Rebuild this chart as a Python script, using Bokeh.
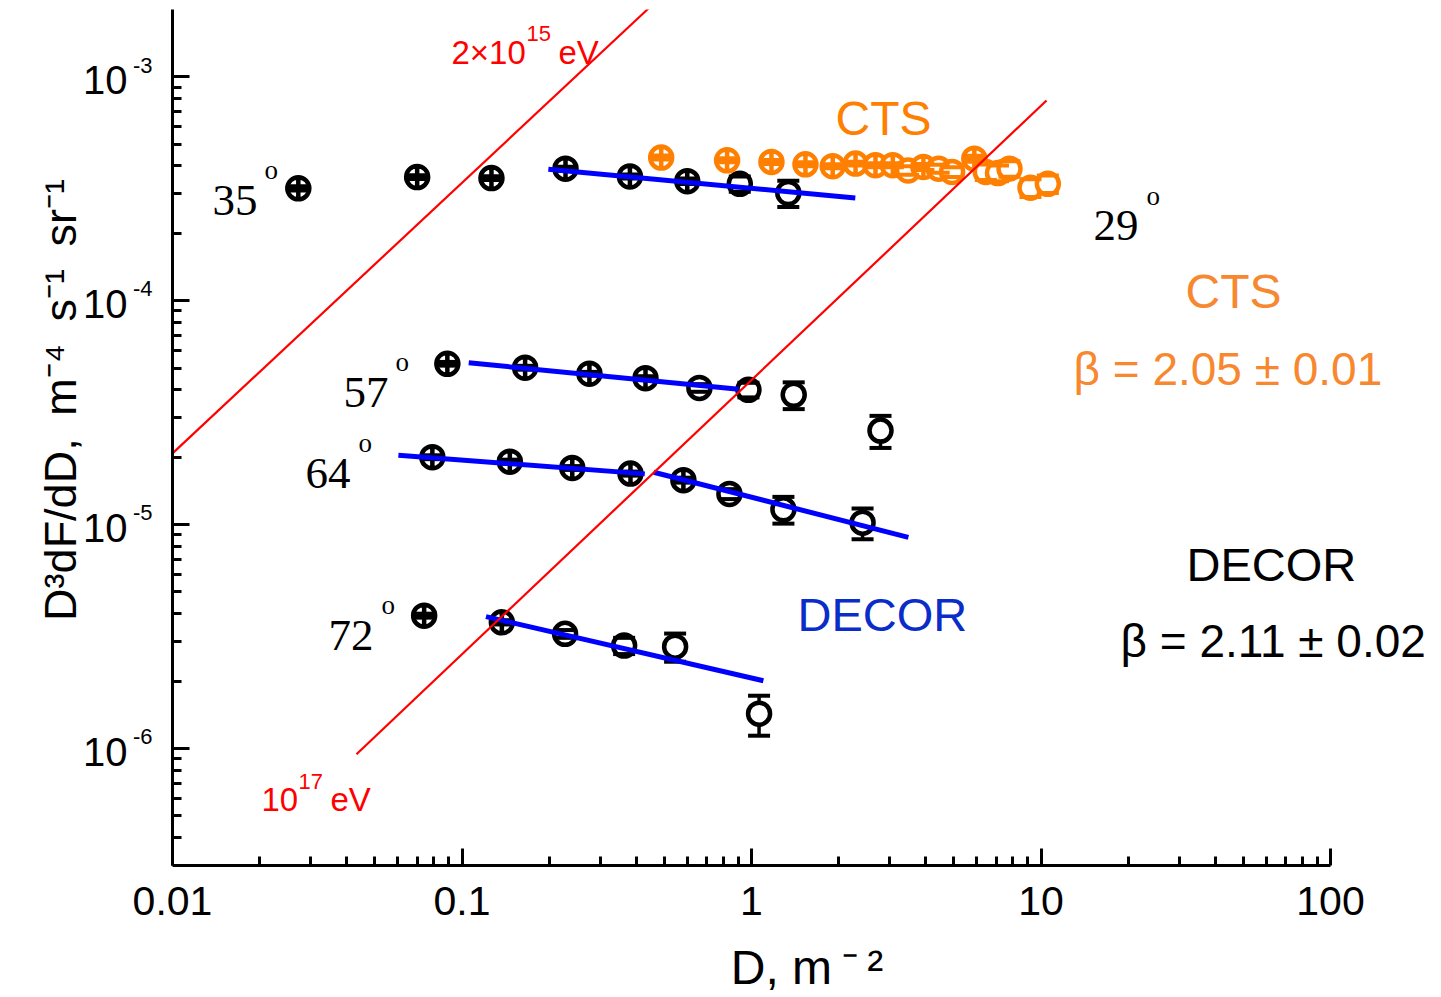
import numpy as np
from bokeh.plotting import figure
from bokeh.models import Label, FixedTicker, CustomJSTickFormatter, ColumnDataSource, LogAxis
from bokeh.embed import file_html
from bokeh.resources import INLINE

# ---------------- data ----------------
# DECOR, zenith angle 35 deg
d35 = [0.0272, 0.0700, 0.1264, 0.2278, 0.3802, 0.600, 0.911, 1.340]
f35 = [3.18e-4, 3.57e-4, 3.53e-4, 3.89e-4, 3.59e-4, 3.42e-4, 3.33e-4, 3.03e-4]
e35 = [0.07e-4, 0.07e-4, 0.07e-4, 0.08e-4, 0.07e-4, 0.10e-4, 0.26e-4, 0.41e-4]
# 57 deg
d57 = [0.0890, 0.1652, 0.2755, 0.4304, 0.6607, 0.976, 1.399, 2.790]
f57 = [5.23e-5, 5.02e-5, 4.72e-5, 4.51e-5, 4.08e-5, 4.00e-5, 3.80e-5, 2.63e-5]
e57 = [0.10e-5, 0.10e-5, 0.09e-5, 0.09e-5, 0.16e-5, 0.30e-5, 0.52e-5, 0.43e-5]
# 64 deg
d64 = [0.0790, 0.1463, 0.2404, 0.3819, 0.5818, 0.839, 1.289, 2.419]
f64 = [2.00e-5, 1.91e-5, 1.79e-5, 1.69e-5, 1.58e-5, 1.37e-5, 1.17e-5, 1.02e-5]
e64 = [0.04e-5, 0.04e-5, 0.035e-5, 0.035e-5, 0.04e-5, 0.07e-5, 0.16e-5, 0.16e-5]
# 72 deg
d72 = [0.0740, 0.1373, 0.227, 0.3631, 0.5447, 1.062]
f72 = [3.92e-6, 3.66e-6, 3.25e-6, 2.88e-6, 2.85e-6, 1.43e-6]
e72 = [0.08e-6, 0.08e-6, 0.13e-6, 0.24e-6, 0.41e-6, 0.29e-6]
# CTS, 29 deg
dcts = [0.4876, 0.8236, 1.172, 1.536, 1.908, 2.288, 2.681, 3.077, 3.475,
        3.925, 4.432, 4.931, 5.884, 6.447, 7.103, 7.784, 9.199, 10.56]
fcts = [4.36e-4, 4.24e-4, 4.17e-4, 4.07e-4, 3.99e-4, 4.10e-4, 4.03e-4, 4.03e-4, 3.82e-4,
        3.96e-4, 3.89e-4, 3.76e-4, 4.31e-4, 3.76e-4, 3.72e-4, 3.89e-4, 3.20e-4, 3.33e-4]
ects = [0.09e-4, 0.085e-4, 0.083e-4, 0.081e-4, 0.08e-4, 0.082e-4, 0.08e-4, 0.08e-4, 0.17e-4,
        0.12e-4, 0.16e-4, 0.19e-4, 0.13e-4, 0.30e-4, 0.30e-4, 0.31e-4, 0.29e-4, 0.30e-4]

# power-law fits (DECOR), end points
fit35_d, fit35_f = [0.1987, 2.283], [3.864e-4, 2.875e-4]
fit57_d, fit57_f = [0.1055, 0.9034], [5.282e-5, 4.025e-5]
fit64a_d, fit64a_f = [0.0603, 0.428], [2.041e-5, 1.685e-5]
fit64b_d, fit64b_f = [0.4595, 3.483], [1.713e-5, 0.877e-5]
fit72_d, fit72_f = [0.121, 1.099], [3.879e-6, 2.007e-6]

# constant-energy lines
en1_d, en1_f = [0.01, 0.4406], [2.08e-5, 2.02e-3]     # 2x10^15 eV
en2_d, en2_f = [0.0432, 10.45], [9.42e-7, 7.84e-4]    # 10^17 eV

x_ticks = [0.01, 0.1, 1, 10, 100]
y_ticks = [1e-6, 1e-5, 1e-4, 1e-3]

# ---------------- layout ----------------
XMIN, XMAX = 0.01, 100          # axis extent
YMIN, YMAX = 3e-7, 2e-3
W, H = 1441, 997
L, T, B = 172, 9, 132
AXW = 1158                       # pixel length of the x axis (0.01 .. 100)
FH = H - T - B
DECX = AXW / (np.log10(XMAX) - np.log10(XMIN))
LY = np.log10(YMAX) - np.log10(YMIN)
DECY = FH / LY
XEND = 10 ** (np.log10(XMIN) + (W - L) / DECX)   # frame runs to the right edge


def px2x(px):
    return 10 ** (np.log10(XMIN) + (px - L) / DECX)


def py2y(py):
    return 10 ** (np.log10(YMAX) - (py - T) / FH * LY)


p = figure(width=W, height=H, x_axis_type="log", y_axis_type="log",
           x_range=(XMIN, XEND), y_range=(YMIN, YMAX),
           output_backend="svg", toolbar_location=None, title=None,
           min_border_left=L, min_border_right=0, min_border_top=T, min_border_bottom=B)
p.outline_line_color = None
p.grid.visible = False
p.background_fill_color = "white"
p.border_fill_color = "white"

x_minor = [k * 10.0 ** e for e in range(-2, 2) for k in range(2, 10)]
y_minor = [k * 10.0 ** e for e in range(-7, -2) for k in range(2, 10)]
y_minor = [v for v in y_minor if YMIN * 1.01 < v < YMAX * 0.99]
p.xaxis.ticker = FixedTicker(ticks=x_ticks, minor_ticks=x_minor)
p.yaxis.ticker = FixedTicker(ticks=y_ticks, minor_ticks=y_minor)
p.xaxis.bounds = (XMIN, XMAX)
p.xaxis.formatter = CustomJSTickFormatter(code="return String(tick)")
p.yaxis.formatter = CustomJSTickFormatter(code="return ''")
for ax in (p.xaxis, p.yaxis):
    ax.axis_line_width = 3
    ax.axis_line_color = "black"
    ax.major_tick_in = 17
    ax.major_tick_out = 0
    ax.minor_tick_in = 9
    ax.minor_tick_out = 0
    ax.major_tick_line_width = 3
    ax.minor_tick_line_width = 3
    ax.major_tick_line_color = "black"
    ax.minor_tick_line_color = "black"
    ax.major_label_text_font = "Liberation Sans"
    ax.major_label_text_color = "black"
p.yaxis.major_label_standoff = 0
p.yaxis.major_label_text_font_size = "1px"
p.xaxis.major_label_text_font_size = "41px"
p.xaxis.major_label_standoff = 21
p.xaxis.axis_label = "D, m\u2009\u207b\u2009\u00b2"
p.xaxis.axis_label_text_font = "Liberation Sans"
p.xaxis.axis_label_text_font_size = "48px"
p.xaxis.axis_label_text_font_style = "normal"
p.xaxis.axis_label_text_color = "black"
p.xaxis.axis_label_standoff = 23


def label_axis(ticks, code, size, standoff):
    ax = LogAxis(ticker=FixedTicker(ticks=ticks), formatter=CustomJSTickFormatter(code=code))
    ax.axis_line_color = None
    ax.major_tick_line_color = None
    ax.minor_tick_line_color = None
    ax.major_tick_in = 0
    ax.major_tick_out = 0
    ax.minor_tick_in = 0
    ax.minor_tick_out = 0
    ax.major_label_standoff = standoff
    ax.major_label_text_font = "Liberation Sans"
    ax.major_label_text_font_size = f"{size}px"
    ax.major_label_text_color = "black"
    p.add_layout(ax, "left")
    return ax


# exponents, raised as superscripts; then the "10" mantissas and the axis title
SUP_UP, MAN_DOWN = 11.8, 3.6   # pixel shifts of the label centres relative to the ticks
exp_ax = label_axis([t * 10 ** (SUP_UP / DECY) for t in y_ticks],
                    "return String(Math.round(Math.log10(tick)))", 22, 20)
man_ax = label_axis([t * 10 ** (-MAN_DOWN / DECY) for t in y_ticks], "return '10'", 40, 2)
NB = "\u00a0"
man_ax.axis_label = (NB * 6 + "D\u00b3dF/dD,\u2002m\u207b\u2074\u2002s\u207b\u00b9\u2002sr\u207b\u00b9")
man_ax.axis_label_text_font = "Liberation Sans"
man_ax.axis_label_text_font_size = "45px"
man_ax.axis_label_text_font_style = "normal"
man_ax.axis_label_text_color = "black"
man_ax.axis_label_standoff = -6


# ---------------- points with error bars ----------------
def series(d, f, e, color):
    marker = ["circle_cross" if ei / fi < 0.035 else "circle" for fi, ei in zip(f, e)]
    lo = [fi - ei for fi, ei in zip(f, e)]
    hi = [fi + ei for fi, ei in zip(f, e)]
    src = ColumnDataSource(dict(d=d, f=f, lo=lo, hi=hi, m=marker))
    p.segment(x0="d", y0="lo", x1="d", y1="hi", source=src, line_color=color, line_width=3.5)
    p.scatter(x="d", y="f", marker="m", source=src, size=22, fill_color="white",
              line_color=color, line_width=4.5)
    p.scatter(x="d", y="lo", marker="dash", source=src, size=22, line_color=color, line_width=4)
    p.scatter(x="d", y="hi", marker="dash", source=src, size=22, line_color=color, line_width=4)


BLACK = "black"
ORANGE = "#ff8000"
for d, f, e in ((d35, f35, e35), (d57, f57, e57), (d64, f64, e64), (d72, f72, e72)):
    series(d, f, e, BLACK)
series(dcts, fcts, ects, ORANGE)

BLUE = "#0000ff"
for fd, ff in ((fit35_d, fit35_f), (fit57_d, fit57_f), (fit64a_d, fit64a_f),
               (fit64b_d, fit64b_f), (fit72_d, fit72_f)):
    p.line(fd, ff, line_color=BLUE, line_width=5)

RED = "#ff0000"
p.line(en1_d, en1_f, line_color=RED, line_width=2.2)
p.line(en2_d, en2_f, line_color=RED, line_width=2.2)


# ---------------- texts inside the frame ----------------
def lab(px, py, text, size, color="black", font="Liberation Sans", style="normal", align="left"):
    p.add_layout(Label(x=px2x(px), y=py2y(py), text=text, text_font=font,
                       text_font_size=f"{size}px", text_font_style=style,
                       text_color=color, text_align=align, text_baseline="alphabetic"))


# zenith-angle labels
SERIF = "Liberation Serif"
for txt, x0, yb, xo, yo in (("35", 212, 200, 264, 169), ("57", 343, 392, 395, 361),
                            ("64", 305, 473, 358, 442), ("72", 328, 635, 381, 604),
                            ("29", 1093, 225, 1146, 195)):
    lab(x0, yb, txt, 45, font=SERIF)
    lab(xo, yo, "o", 27, font=SERIF)

# energy labels
lab(451, 52, "2\u00d710", 33, color=RED)
lab(526, 33, "15", 22, color=RED)
lab(558, 52, "eV", 33, color=RED)
lab(261, 799, "10", 33, color=RED)
lab(298, 781, "17", 22, color=RED)
lab(330, 799, "eV", 33, color=RED)

# experiment labels
lab(835, 118, "CTS", 48, color=ORANGE)
lab(797, 614, "DECOR", 47, color="#0a2cc8")
lab(1185, 291, "CTS", 48, color="#f7882f")
lab(1073, 368, "\u03b2 = 2.05 \u00b1 0.01", 46, color="#f7882f")
lab(1186, 564, "DECOR", 47)
lab(1120, 640, "\u03b2 = 2.11 \u00b1 0.02", 46)

open("out.html", "w").write(file_html(p, INLINE))
